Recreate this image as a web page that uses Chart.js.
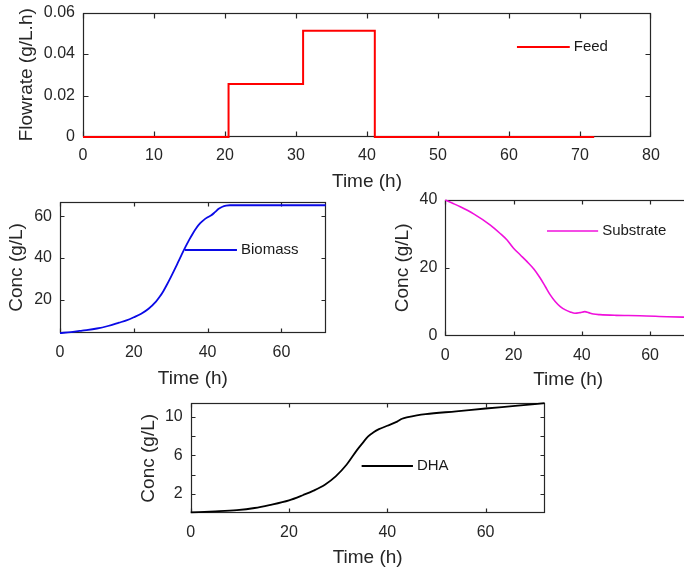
<!DOCTYPE html>
<html>
<head>
<meta charset="utf-8">
<title>Fed-batch DHA fermentation</title>
<script src="https://cdn.jsdelivr.net/npm/chart.js@4.4.1/dist/chart.umd.min.js"></script>
<style>
  html, body { margin: 0; padding: 0; background: #fff; }
  body { width: 684px; height: 571px; overflow: hidden; position: relative; }
  canvas { position: absolute; }
</style>
</head>
<body>
<canvas id="feed-chart" width="684" height="200" style="left:0;top:0"></canvas>
<canvas id="biomass-chart" width="340" height="205" style="left:0;top:190px"></canvas>
<canvas id="substrate-chart" width="360" height="205" style="left:340px;top:190px"></canvas>
<canvas id="dha-chart" width="440" height="181" style="left:120px;top:390px"></canvas>
<script>
/* Fermentation profiles — feed schedule, biomass, substrate and DHA */

// ── Data ────────────────────────────────────────────────────────────────
// feed schedule (stepped: each rate holds from its time until the next)
var feedTime = [0, 20.5, 31, 41.1, 72];
var feedRate = [0, 0.0255, 0.0512, 0, 0];

var biomassTime = [0, 3, 6, 10, 13, 16, 18, 20, 22, 24, 26, 27, 28, 29, 30, 31, 32, 33, 34, 35,
                   36, 37, 38, 39, 40, 41, 42, 43, 44, 45, 46, 50, 60, 72];
var biomassConc = [3.9, 4.4, 5.1, 6.1, 7.3, 8.9, 10.0, 11.5, 13.2, 15.6, 19, 21.3, 24, 27.2, 30.6, 34.2, 37.9, 41.6, 45.2, 48.6,
                   51.7, 54.4, 56.6, 58.2, 59.4, 60.4, 61.9, 63.5, 64.5, 65, 65.2, 65.2, 65.2, 65.2];

var substrateTime = [0, 2, 4.4, 8.3, 13.2, 16, 18.1, 20, 22, 23.9, 26, 27.8, 29.3, 30.7, 32.2, 33.7, 35.2,
                     36.6, 38, 39.5, 40.9, 42, 43.4, 45.3, 50, 57, 65, 72];
var substrateConc = [40, 39.1, 38, 35.9, 32.6, 30.2, 28.2, 25.8, 23.8, 21.9, 19.6, 17, 14.5, 12.1, 10.1, 8.6, 7.6,
                     7.0, 6.6, 6.8, 7.1, 6.8, 6.4, 6.2, 6.0, 5.9, 5.6, 5.4];

var dhaTime = [0, 5, 9.4, 13, 16, 20, 22.9, 25, 27.3, 29.5, 31.7, 33.9, 35, 36.1, 37.2, 38.3, 40, 42, 43,
               44.2, 46, 47.8, 54, 60, 66, 72];
var dhaConc = [0.1, 0.2, 0.33, 0.55, 0.85, 1.34, 1.9, 2.35, 2.97, 3.83, 5.03, 6.6, 7.3, 7.97, 8.4, 8.72, 9.07, 9.5, 9.8,
               9.97, 10.15, 10.28, 10.57, 10.86, 11.13, 11.41];

// ── Ticks ───────────────────────────────────────────────────────────────
var feedTimeTicks = [0, 10, 20, 30, 40, 50, 60, 70, 80];
var feedRateTicks = [0, 0.02, 0.04, 0.06];
var feedRateLabels = ["0", "0.02", "0.04", "0.06"];
var timeTicks = [0, 20, 40, 60];
var biomassTicks = [20, 40, 60];
var substrateTicks = [0, 20, 40];
var dhaTicks = [2, 4, 6, 8, 10];
var dhaLabels = ["2", "", "6", "", "10"];

// ── Look ────────────────────────────────────────────────────────────────
var FONT = "'Liberation Sans', Arial, Helvetica, sans-serif";
var AXIS_COLOR = "#262626";

Chart.defaults.font.family = FONT;
Chart.defaults.color = AXIS_COLOR;

function toPoints(xs, ys) {
  return xs.map(function (x, i) { return { x: x, y: ys[i] }; });
}

function fixedTicks(values) {
  return function (scale) {
    scale.ticks = values.map(function (v) { return { value: v }; });
  };
}

// pin an axis to a fixed thickness and drop the label overhang padding,
// so the plot area sits exactly where the layout padding puts it
function fixedSize(prop, size) {
  return function (s) {
    s[prop] = size;
    s.paddingTop = s.paddingBottom = s.paddingLeft = s.paddingRight = 0;
  };
}

function clamp(v, lo, hi) { return Math.min(Math.max(v, lo), hi); }

// box round the plot area with inward tick marks on all four sides,
// plus a single legend key (line + label) placed inside the plot
var boxAxes = {
  id: "boxAxes",
  beforeDatasetsDraw: function (chart, args, opts) {
    var a = chart.chartArea, ctx = chart.ctx, len = opts.tickLength;
    var l = Math.round(a.left) + 0.5, r = Math.round(a.right) - 0.5;
    var t = Math.round(a.top) + 0.5, b = Math.round(a.bottom) - 0.5;
    ctx.save();
    ctx.strokeStyle = AXIS_COLOR;
    ctx.lineWidth = 1.2;
    ctx.strokeRect(l, t, r - l, b - t);
    ctx.beginPath();
    chart.scales.x.ticks.forEach(function (tk) {
      var px = clamp(Math.round(chart.scales.x.getPixelForValue(tk.value)) + 0.5, l, r);
      ctx.moveTo(px, b); ctx.lineTo(px, b - len);
      ctx.moveTo(px, t); ctx.lineTo(px, t + len);
    });
    chart.scales.y.ticks.forEach(function (tk) {
      var py = clamp(Math.round(chart.scales.y.getPixelForValue(tk.value)) + 0.5, t, b);
      ctx.moveTo(l, py); ctx.lineTo(l + len, py);
      ctx.moveTo(r, py); ctx.lineTo(r - len, py);
    });
    ctx.stroke();
    ctx.restore();
  },
  afterDatasetsDraw: function (chart, args, opts) {
    var k = opts.key;
    if (!k) return;
    var a = chart.chartArea, ctx = chart.ctx, ds = chart.data.datasets[0];
    var x0 = a.left + k.x0 * (a.right - a.left);
    var x1 = a.left + k.x1 * (a.right - a.left);
    var y = a.top + k.y * (a.bottom - a.top);
    ctx.save();
    ctx.strokeStyle = ds.borderColor;
    ctx.lineWidth = ds.borderWidth;
    ctx.beginPath();
    ctx.moveTo(x0, y); ctx.lineTo(x1, y);
    ctx.stroke();
    ctx.fillStyle = "#1a1a1a";
    ctx.font = "15px " + FONT;
    ctx.textBaseline = "middle";
    ctx.textAlign = "left";
    ctx.fillText(ds.label, x1 + 4, y);
    ctx.restore();
  }
};

// ── Chart builder ───────────────────────────────────────────────────────
function makeChart(id, c) {
  var canvas = document.getElementById(id);
  if (!canvas || typeof Chart === "undefined") return;

  new Chart(canvas.getContext("2d"), {
    type: "line",
    data: {
      datasets: [{
        label: c.label,
        data: toPoints(c.x, c.y),
        borderColor: c.color,
        borderWidth: c.lineWidth,
        pointRadius: 0,
        fill: false,
        stepped: c.stepped || false,
        cubicInterpolationMode: "monotone",
        clip: 3
      }]
    },
    options: {
      responsive: false,
      animation: false,
      devicePixelRatio: 1,
      layout: { padding: c.padding, autoPadding: false },
      plugins: {
        legend: { display: false },
        tooltip: { enabled: false },
        boxAxes: { tickLength: c.tickLength, key: c.key }
      },
      scales: {
        x: {
          type: "linear",
          min: c.xMin, max: c.xMax,
          afterBuildTicks: fixedTicks(c.xTicks),
          afterFit: fixedSize("height", c.xAxisHeight),
          grid: { display: false, drawTicks: false },
          border: { display: false },
          ticks: { padding: c.xTickPad, font: { size: 16 }, maxRotation: 0, autoSkip: false },
          title: {
            display: true, text: "Time (h)", font: { size: 19 },
            padding: { top: 0, bottom: c.xTitlePad }
          }
        },
        y: {
          type: "linear",
          min: c.yMin, max: c.yMax,
          afterBuildTicks: fixedTicks(c.yTicks),
          afterFit: fixedSize("width", c.yAxisWidth),
          grid: { display: false, drawTicks: false },
          border: { display: false },
          ticks: {
            padding: 8, font: { size: 16 }, autoSkip: false,
            callback: function (v, i) { return c.yLabels ? c.yLabels[i] : String(v); }
          },
          title: {
            display: true, text: c.yTitle, font: { size: 19 },
            padding: { top: c.yTitlePad, bottom: 0 }
          }
        }
      }
    },
    plugins: [boxAxes]
  });
}

// ── Boot ────────────────────────────────────────────────────────────────
makeChart("feed-chart", {
  label: "Feed", x: feedTime, y: feedRate, color: "#ff0000", lineWidth: 2, stepped: "before",
  xMin: 0, xMax: 80, xTicks: feedTimeTicks,
  yMin: 0, yMax: 0.06, yTicks: feedRateTicks, yLabels: feedRateLabels,
  yTitle: "Flowrate (g/L.h)",
  padding: { left: 0, right: 33, top: 12.5, bottom: 0 },
  yAxisWidth: 83, xAxisHeight: 63, xTickPad: 9, xTitlePad: 6.5, yTitlePad: 15.5,
  tickLength: 5,
  key: { x0: 0.764, x1: 0.857, y: 0.277 }
});

makeChart("biomass-chart", {
  label: "Biomass", x: biomassTime, y: biomassConc, color: "#0a0ae6", lineWidth: 1.8,
  xMin: 0, xMax: 72, xTicks: timeTicks,
  yMin: 3.8, yMax: 67, yTicks: biomassTicks,
  yTitle: "Conc (g/L)",
  padding: { left: 0, right: 14.3, top: 11.5, bottom: 0 },
  yAxisWidth: 60, xAxisHeight: 61.7, xTickPad: 10, xTitlePad: 5.3, yTitlePad: 5.3,
  tickLength: 4,
  key: { x0: 0.47, x1: 0.666, y: 0.368 }
});

makeChart("substrate-chart", {
  label: "Substrate", x: substrateTime, y: substrateConc, color: "#f010dc", lineWidth: 1.6,
  xMin: 0, xMax: 72, xTicks: timeTicks,
  yMin: 0, yMax: 40, yTicks: substrateTicks,
  yTitle: "Conc (g/L)",
  padding: { left: 0, right: 9, top: 10, bottom: 0 },
  yAxisWidth: 105.3, xAxisHeight: 59.3, xTickPad: 10, xTitlePad: 3.6, yTitlePad: 51.6,
  tickLength: 4,
  key: { x0: 0.414, x1: 0.622, y: 0.228 }
});

makeChart("dha-chart", {
  label: "DHA", x: dhaTime, y: dhaConc, color: "#000000", lineWidth: 1.8,
  xMin: 0, xMax: 72, xTicks: timeTicks,
  yMin: 0, yMax: 11.4, yTicks: dhaTicks, yLabels: dhaLabels,
  yTitle: "Conc (g/L)",
  padding: { left: 0, right: 15.4, top: 13.3, bottom: 0 },
  yAxisWidth: 70.7, xAxisHeight: 57.7, xTickPad: 9.8, xTitlePad: 1.6, yTitlePad: 17.4,
  tickLength: 4,
  key: { x0: 0.483, x1: 0.628, y: 0.57 }
});
</script>
</body>
</html>
